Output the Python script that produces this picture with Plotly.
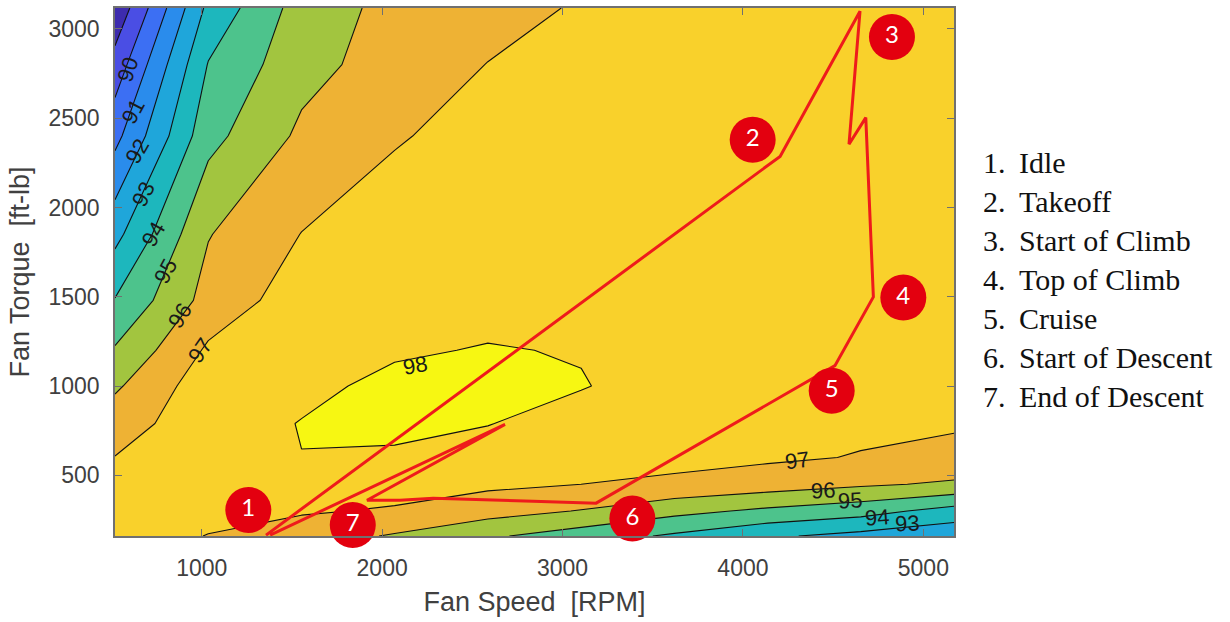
import plotly.graph_objects as go

# ---------------- data ----------------
# efficiency map grid (fan speed [RPM] x fan torque [ft-lb])
rpm = [519, 1036, 1553, 2069, 2586, 3103, 3620, 4137, 4653, 5170]
torque = [160, 300, 450, 600, 790, 1000, 1200, 1480, 1850, 2400, 2800, 3117]
efficiency = [
    [97.50, 96.97, 96.50, 95.90, 95.15, 94.50, 93.85, 93.15, 92.70, 92.30],  # 160
    [97.40, 97.30, 97.10, 96.90, 96.40, 95.95, 95.30, 94.80, 94.40, 93.60],  # 300
    [97.30, 97.45, 97.50, 97.40, 97.20, 97.00, 96.80, 96.50, 96.15, 95.85],  # 450
    [97.02, 97.50, 97.99, 97.80, 97.60, 97.45, 97.30, 97.15, 96.95, 96.80],  # 600
    [96.55, 97.60, 98.03, 98.35, 98.03, 97.60, 97.50, 97.30, 97.20, 97.08],  # 790
    [95.85, 97.58, 97.80, 98.20, 98.30, 98.05, 97.60, 97.55, 97.45, 97.35],  # 1000
    [95.10, 97.15, 97.60, 97.90, 98.05, 97.95, 97.60, 97.50, 97.40, 97.30],  # 1200
    [94.05, 96.37, 97.50, 97.65, 97.70, 97.60, 97.50, 97.45, 97.40, 97.35],  # 1480
    [92.70, 95.95, 97.02, 97.35, 97.50, 97.55, 97.55, 97.50, 97.45, 97.40],  # 1850
    [90.70, 94.68, 96.19, 96.94, 97.25, 97.40, 97.50, 97.55, 97.55, 97.50],  # 2400
    [89.40, 94.05, 95.67, 96.43, 97.02, 97.25, 97.40, 97.50, 97.55, 97.55],  # 2800
    [88.20, 93.25, 95.44, 96.30, 96.63, 97.10, 97.30, 97.45, 97.55, 97.60],  # 3117
]

# contour-line labels (value, position on the line, tilt)
label_vals = [90, 91, 92, 93, 94, 95, 96, 97, 98, 97, 96, 95, 94, 93]
label_rpm = [591, 619, 641, 674, 730, 797, 880, 991, 2182, 4300, 4444, 4594, 4743, 4909]
label_torque = [2771, 2537, 2314, 2074, 1850, 1644, 1393, 1198, 1114, 584, 416, 360, 266, 232]
label_angle = [-72, -62, -60, -63, -60, -62, -58, -55, -10, -8, -4, -4, -4, -3]

# flight mission path
path_rpm = [1356, 4206, 4649, 4588, 4681, 4723, 4510, 3186, 2837, 2471, 2283, 2099, 1916, 2681, 1379]
path_torque = [165, 2286, 3099, 2354, 2503, 1499, 1114, 344, 355, 366, 372, 360, 360, 785, 165]

# numbered mission points
stage_nums = ["1", "2", "3", "4", "5", "6", "7"]
stage_names = ["Idle", "Takeoff", "Start of Climb", "Top of Climb",
               "Cruise", "Start of Descent", "End of Descent"]
stage_rpm = [1258, 4054, 4826, 4889, 4492, 3387, 1837]
stage_torque = [305, 2379, 2955, 1495, 974, 258, 221]

# tick labels
x_ticks = [1000, 2000, 3000, 4000, 5000]
y_ticks = [500, 1000, 1500, 2000, 2500, 3000]

# band colours: <89, 89-90, ..., 97-98, >98
band_colors = ["#3d2bae", "#4a4ee4", "#3c6ff3", "#2a8cec", "#1fa6da",
               "#1db7bd", "#4dc38c", "#a2c53f", "#eeb234", "#f9d12b", "#f7f712"]

# ---------------- figure ----------------
n = len(band_colors)
colorscale = [[i / (n - 1), c] for i, c in enumerate(band_colors)]

fig = go.Figure()

fig.add_trace(go.Contour(
    x=rpm, y=torque, z=efficiency,
    autocontour=False,
    contours=dict(start=89, end=98, size=1, coloring="fill", showlines=False),
    colorscale=colorscale, showscale=False,
    line=dict(width=0, smoothing=0),
    hoverinfo="skip",
))

fig.add_trace(go.Contour(
    x=rpm, y=torque, z=efficiency,
    autocontour=False,
    contours=dict(start=89, end=98, size=1, coloring="none", showlines=True),
    line=dict(color="#111111", width=1.1, smoothing=0),
    showscale=False, hoverinfo="skip",
))

for val, lx, ly, ang in zip(label_vals, label_rpm, label_torque, label_angle):
    fig.add_annotation(
        x=lx, y=ly, xref="x", yref="y", text=str(val), showarrow=False,
        textangle=ang, xanchor="center", yanchor="middle",
        font=dict(family="Liberation Sans, Arial, sans-serif", size=22, color="#1a1a1a"),
    )

fig.add_trace(go.Scatter(
    x=path_rpm, y=path_torque, mode="lines",
    line=dict(color="#ee1b1b", width=3),
    hoverinfo="skip", cliponaxis=True,
))

fig.add_trace(go.Scatter(
    x=stage_rpm, y=stage_torque, mode="markers+text",
    text=stage_nums, textposition="middle center",
    textfont=dict(family="Lato, Open Sans, sans-serif", size=24, color="white"),
    marker=dict(size=46, color="#e3000f", line=dict(width=0)),
    hoverinfo="skip", cliponaxis=False,
))

legend_text = "<br>".join(f"{num}.\u00a0\u2009{name}" for num, name in zip(stage_nums, stage_names))
fig.add_annotation(
    xref="paper", yref="paper", x=(981 - 115) / 839, y=(536 - 279) / 530,
    xanchor="left", yanchor="middle", align="left", showarrow=False,
    text=legend_text,
    font=dict(family="Liberation Serif, Times New Roman, serif", size=30, color="#111111"),
)

axis_font = dict(family="Liberation Sans, Arial, Helvetica, sans-serif", size=23, color="#404040")
title_font = dict(family="Liberation Sans, Arial, Helvetica, sans-serif", size=27, color="#404040")

fig.update_xaxes(
    range=[rpm[0], rpm[-1]], tickvals=x_ticks, ticktext=[str(v) for v in x_ticks],
    ticks="inside", ticklen=7, tickwidth=1.2, tickcolor="#707070",
    showline=True, linecolor="#707070", linewidth=1.6, mirror="ticks",
    showgrid=False, zeroline=False, tickfont=axis_font, ticklabelstandoff=11,
    title=dict(text="Fan Speed\u00a0\u00a0[RPM]", font=title_font, standoff=12),
)
fig.update_yaxes(
    range=[torque[0], torque[-1]], tickvals=y_ticks, ticktext=[str(v) for v in y_ticks],
    ticks="inside", ticklen=7, tickwidth=1.2, tickcolor="#707070",
    showline=True, linecolor="#707070", linewidth=1.6, mirror="ticks",
    showgrid=False, zeroline=False, tickfont=axis_font, ticklabelstandoff=9,
    title=dict(text="Fan Torque\u00a0\u00a0[ft-lb]", font=title_font, standoff=11),
)

fig.update_layout(
    width=1230, height=622,
    margin=dict(l=115, r=276, t=6, b=86),
    paper_bgcolor="white", plot_bgcolor="white",
    showlegend=False, hovermode=False,
)

fig.write_html("out.html", config={"displayModeBar": False},
               post_script="document.body.style.margin='0px';")
